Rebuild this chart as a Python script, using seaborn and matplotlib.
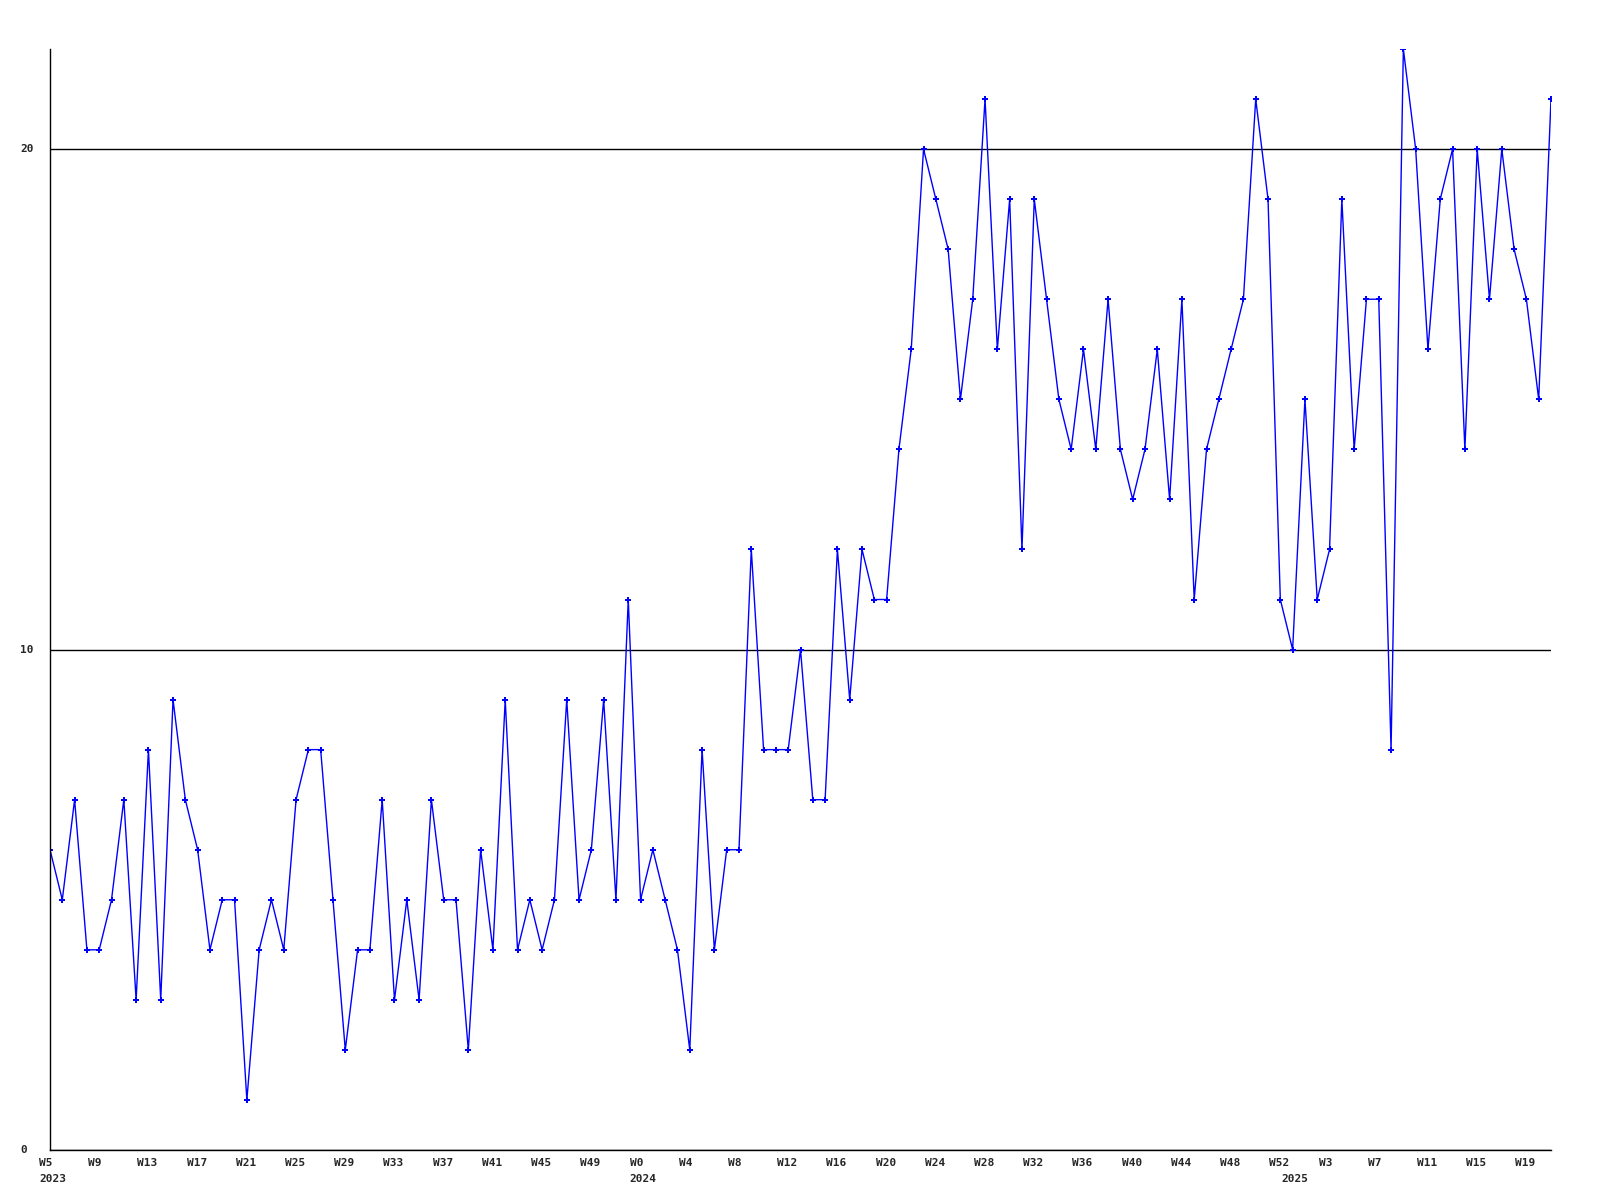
import matplotlib
matplotlib.use("Agg")
import matplotlib.pyplot as plt
import matplotlib.transforms as mtransforms
import seaborn as sns
import pandas as pd

# weekly series: 2023 W5..W52, 2024 W0..W52, 2025 W0..W21
years = [2023] * 48 + [2024] * 53 + [2025] * 22
weeks = list(range(5, 53)) + list(range(0, 53)) + list(range(0, 22))
values = [
    6, 5, 7, 4, 4, 5, 7, 3, 8, 3, 9, 7, 6, 4, 5, 5, 1, 4, 5, 4,
    7, 8, 8, 5, 2, 4, 4, 7, 3, 5, 3, 7, 5, 5, 2, 6, 4, 9, 4, 5,
    4, 5, 9, 5, 6, 9, 5, 11,
    5, 6, 5, 4, 2, 8, 4, 6, 6, 12, 8, 8, 8, 10, 7, 7, 12, 9, 12, 11,
    11, 14, 16, 20, 19, 18, 15, 17, 21, 16, 19, 12, 19, 17, 15, 14, 16, 14,
    17, 14, 13, 14, 16, 13, 17, 11, 14, 15, 16, 17, 21, 19, 11,
    10, 15, 11, 12, 19, 14, 17, 17, 8, 22, 20, 16, 19, 20, 14, 20, 17, 20,
    18, 17, 15, 21,
]
y_ticks = [0, 10, 20]

df = pd.DataFrame({"idx": range(len(values)), "year": years, "week": weeks, "value": values})

sns.set_style("white")
plt.rcParams["font.family"] = ["DejaVu Sans Mono"]
plt.rcParams["font.weight"] = "bold"

fig = plt.figure(figsize=(16, 12), dpi=100)
ax = fig.add_axes([50 / 1600, 50 / 1200, 1501 / 1600, 1101 / 1200])

sns.lineplot(data=df, x="idx", y="value", ax=ax, color="#0000ff", linewidth=1.0,
             marker="P", markersize=4, markeredgewidth=0, markerfacecolor="#0000ff")

ax.set_xlim(0, len(values) - 1)
ax.set_ylim(0, 22)
ax.set_xlabel("")
ax.set_ylabel("")

# y axis: gridlines at ticks, labels left-aligned near the figure edge
ax.set_yticks(y_ticks)
ax.set_yticklabels([])
ax.yaxis.grid(True, color="black", linewidth=1.0)
ax.xaxis.grid(False)
ytrans = mtransforms.blended_transform_factory(ax.transAxes, ax.transData) + \
    mtransforms.ScaledTranslation(-30 / 100, 0, fig.dpi_scale_trans)
for v in y_ticks:
    ax.text(0, v, str(v), transform=ytrans, ha="left", va="center",
            fontsize=8, fontweight="bold")

# x ticks every 4 weeks (labels drawn left-aligned, shifted left of the tick)
tick_idx = list(range(0, len(values), 4))
ax.set_xticks(tick_idx)
ax.set_xticklabels([])
ax.tick_params(axis="both", length=0)

offset = mtransforms.ScaledTranslation(-11 / 100, 0, fig.dpi_scale_trans)
trans = mtransforms.blended_transform_factory(ax.transData, ax.transAxes) + offset
for i in tick_idx:
    ax.text(i, -0.0075, f"W{weeks[i]}", transform=trans, ha="left", va="top",
            fontsize=8, fontweight="bold")

# year labels at first point and at week 0 of each year
year_pos = [0] + [i for i in range(1, len(values)) if years[i] != years[i - 1]]
for i in year_pos:
    ax.text(i, -0.0215, str(years[i]), transform=trans, ha="left", va="top",
            fontsize=8, fontweight="bold")

for s in ["top", "right"]:
    ax.spines[s].set_visible(False)
for s in ["left", "bottom"]:
    ax.spines[s].set_color("black")
    ax.spines[s].set_linewidth(1.0)

fig.savefig("out.png", dpi=100)
